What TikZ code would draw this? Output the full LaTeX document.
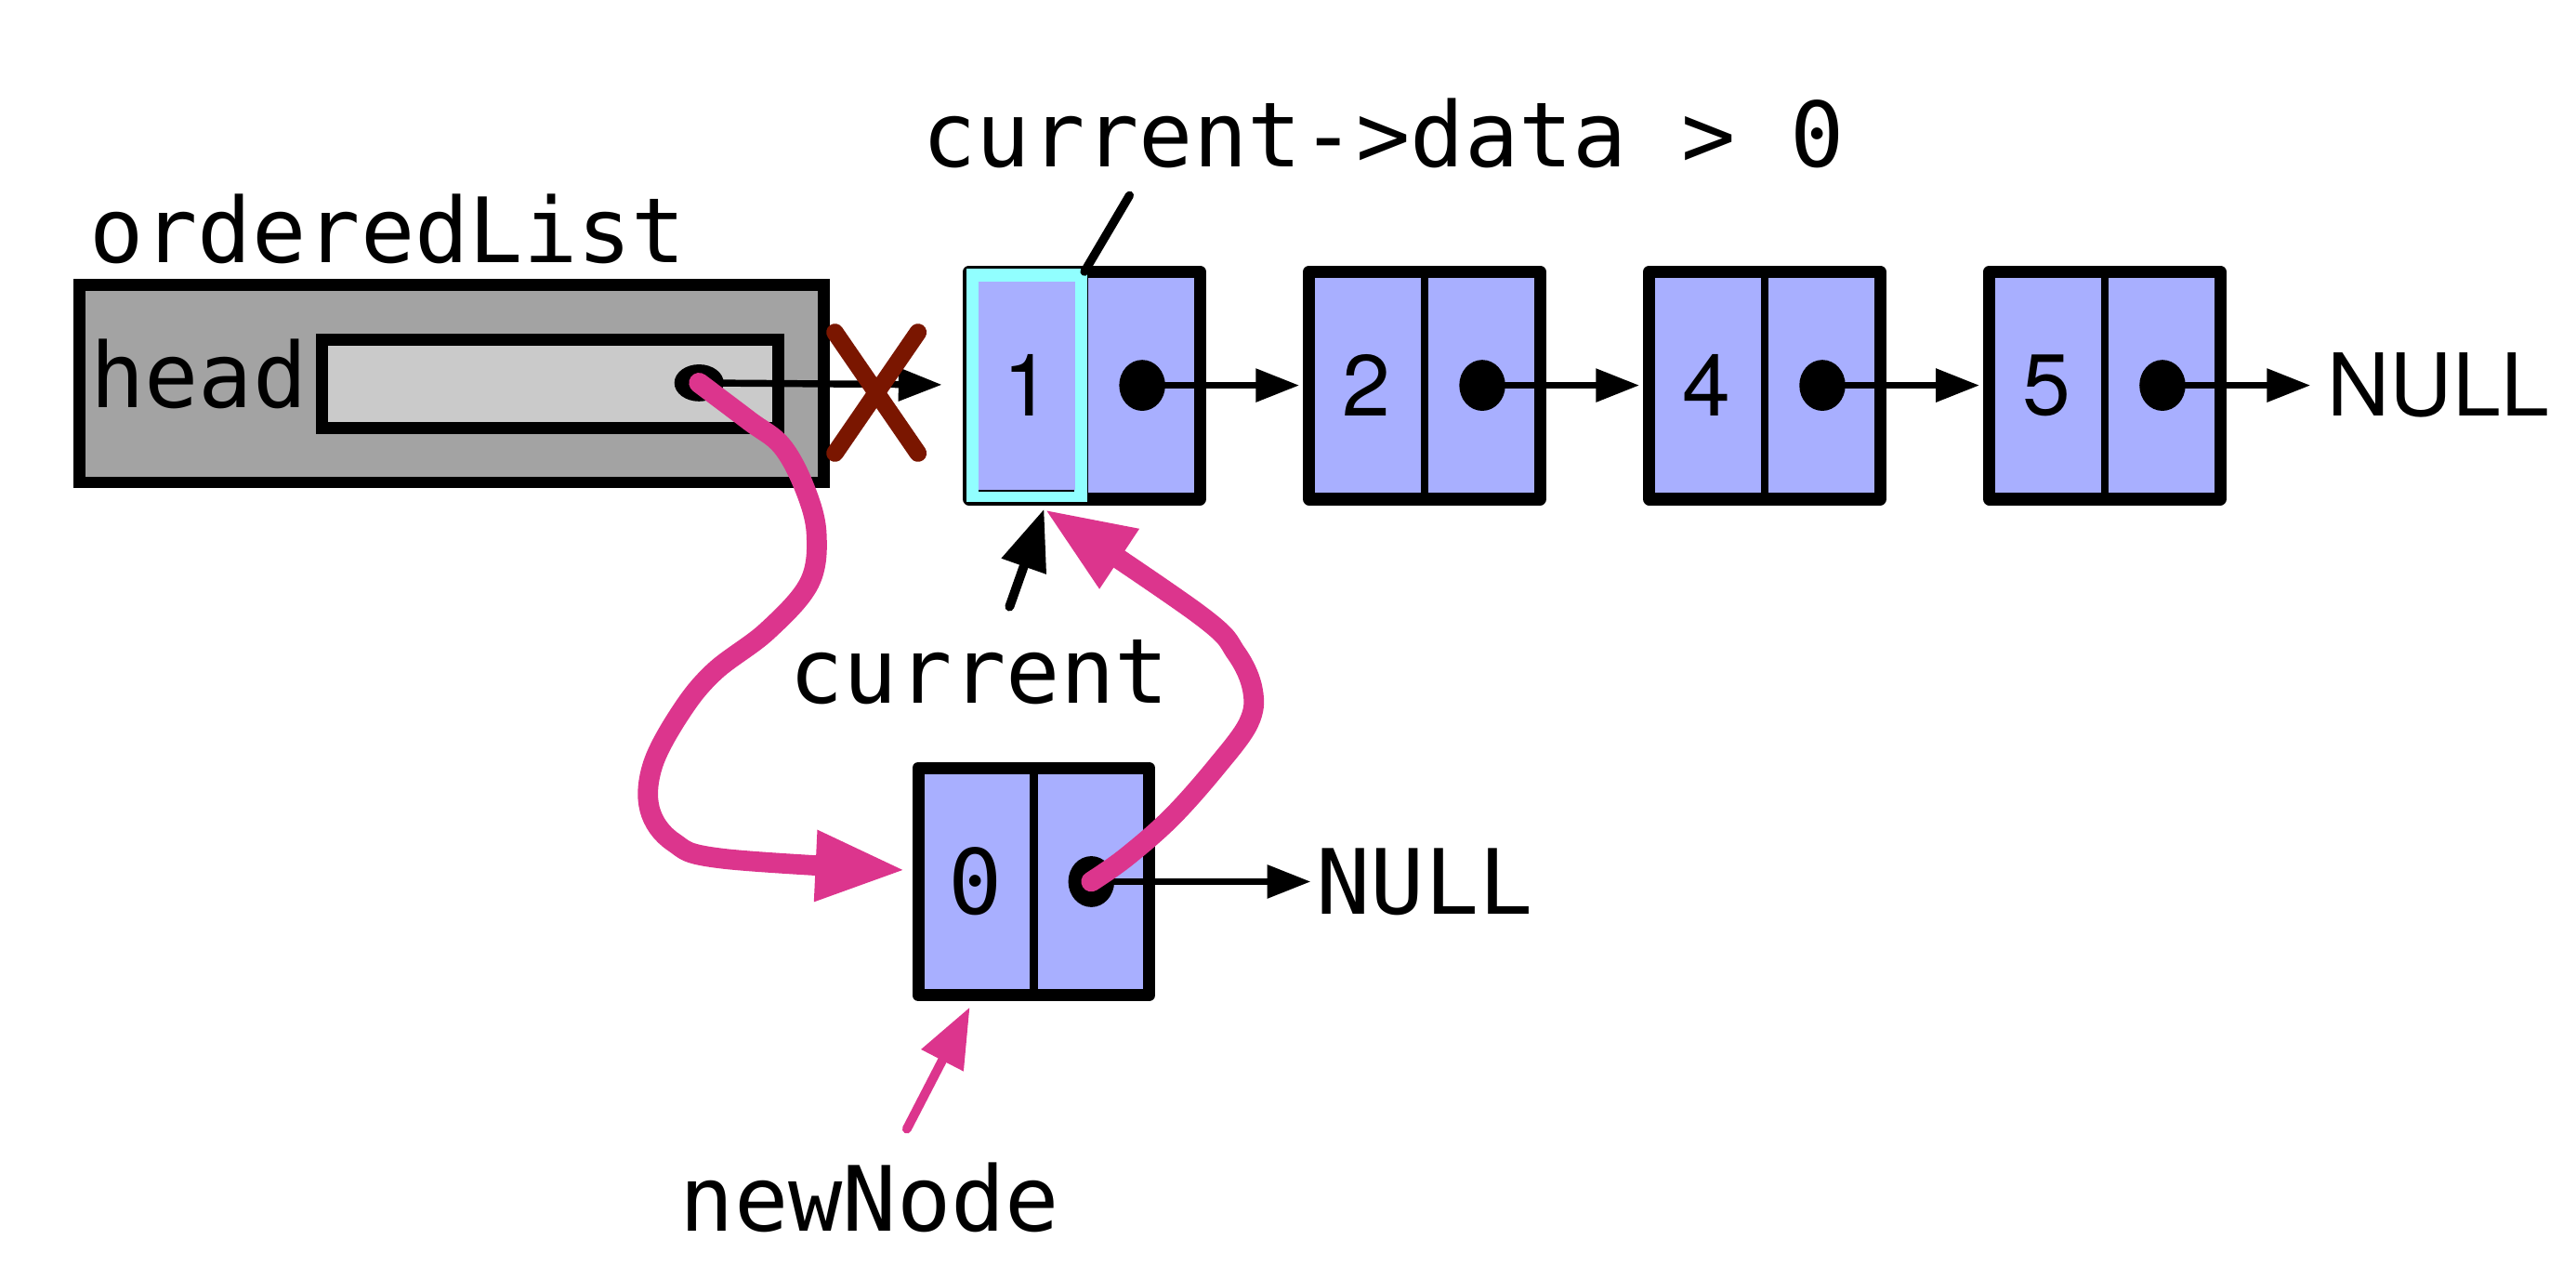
\documentclass[tikz,border=0pt]{standalone}
\usepackage{fontspec}
\setmainfont{TeX Gyre Heros}
\setmonofont{DejaVu Sans Mono}
\newfontfamily\cellfont{TeX Gyre Heros}
\usetikzlibrary{arrows.meta,positioning,shapes.geometric,shapes.misc}
\definecolor{cellblue}{RGB}{168,175,255}
\definecolor{hilitecyan}{RGB}{145,255,255}
\definecolor{objgrey}{RGB}{163,163,163}
\definecolor{fieldgrey}{RGB}{202,202,202}
\definecolor{linkpink}{RGB}{220,53,141}
\definecolor{crossred}{RGB}{122,22,0}
\newcommand{\monobig}{\fontsize{31.2}{37}\selectfont\ttfamily}
\newcommand{\sansbig}{\cellfont\fontsize{30}{36}\selectfont}
\tikzset{
  objbox/.style={
    draw,
    fill=objgrey,
    line width=4.1pt,
    minimum width=9.06cm,
    minimum height=2.4cm,
    inner sep=0pt,
    outer sep=0pt
  },
  fieldbox/.style={
    draw,
    fill=fieldgrey,
    line width=4.2pt,
    minimum width=5.55cm,
    minimum height=1.07cm,
    inner sep=0pt,
    outer sep=0pt
  },
  cell/.style={
    draw,
    fill=cellblue,
    line width=2.8pt,
    minimum width=1.405cm,
    minimum height=2.77cm,
    inner sep=0pt,
    outer sep=0pt,
    font=\sansbig
  },
  frame/.style={
    line width=4.2pt,
    line join=round
  },
  ptrdot/.style={
    ellipse,
    fill=black,
    inner sep=0pt,
    minimum width=.56cm,
    minimum height=.62cm
  },
  lbl/.style={
    inner sep=0pt,
    font=\monobig
  },
  ptr/.style={
    -{Triangle[length=5.3mm,width=3.9mm]},
    line width=2.4pt,
    shorten >=.12cm
  },
  pinklink/.style={
    -{Triangle[length=11mm,width=8mm]},
    line width=7pt,
    linkpink,
    line cap=round,
    line join=round
  },
  xmark/.style={
    cross out,
    draw=crossred,
    line width=6pt,
    line cap=round,
    minimum width=.8cm,
    minimum height=1.26cm,
    inner sep=0pt
  }
}

\begin{document}
\begin{tikzpicture}
\useasboundingbox (0,0) rectangle (31.36,-15.4);
% orderedList object
\node[objbox] (ol) at (5.5,-4.67) {};
\node[fieldbox] (hb) at (6.7,-4.67) {};
\node[lbl,anchor=base] (oltxt) at (4.72,-3.2) {orderedList};
\node[lbl,anchor=base] (headtxt) at (2.42,-4.955) {head};
\node[ptrdot,minimum width=.6cm,minimum height=.45cm] (hdot) at (8.51,-4.66) {};

% list nodes
\node[cell] (v1) at (12.5,-4.69) {1};
\node[cell,right=0pt of v1] (p1) {};
\node[cell,right=1.33cm of p1] (v2) {2};
\node[cell,right=0pt of v2] (p2) {};
\node[cell,right=1.33cm of p2] (v4) {4};
\node[cell,right=0pt of v4] (p4) {};
\node[cell,right=1.33cm of p4] (v5) {5};
\node[cell,right=0pt of v5] (p5) {};
\node[cell,font=\monobig] (v0) at (11.88,-10.73) {0};
\node[cell,right=0pt of v0] (p0) {};
\foreach \k in {0,1,2,4,5}
  \draw[frame] (v\k.south west) rectangle (p\k.north east);

% current node highlight
\draw[hilitecyan,line width=4.4pt] ([shift={(.04,.04)}]v1.south west) rectangle ([shift={(-.04,-.04)}]v1.north east);
\draw[line width=.8pt] ([shift={(.12,.1)}]v1.south west) -- ([shift={(-.12,.1)}]v1.south east);

\foreach \k in {0,1,2,4,5}
  \node[ptrdot] (d\k) at (p\k) {};

\node[anchor=west,inner sep=0pt,font=\sansbig,right=1.3cm of p5] (null5) {NULL};
\node[lbl,anchor=west,right=2.03cm of p0] (null0) {NULL};

% labels
\node[lbl,anchor=base] (cond) at (16.84,-2.036) {current->data > 0};
\node[lbl,anchor=base] (cur) at (11.92,-8.56) {current};
\node[lbl,anchor=base] (nn) at (10.59,-14.98) {newNode};
\coordinate (tgt) at ([xshift=.21cm,yshift=-.12cm]v1.south);

% next pointers
\draw[ptr,shorten >=.33cm] (hdot.center) -- (v1);
\draw[ptr] (d1.center) -- (v2);
\draw[ptr] (d2.center) -- (v4);
\draw[ptr] (d4.center) -- (v5);
\draw[ptr,shorten >=.2cm] (d5.center) -- (null5);
\draw[ptr,shorten >=.06cm] (d0.center) -- (null0);

\node[xmark] (xm) at (10.67,-4.78) {};

\draw[line width=3pt,line cap=round] ([xshift=-3.09cm,yshift=-.32cm]cond.south) -- (v1.north east);
\draw[line width=3.2pt,line cap=round,-{Triangle[length=7.4mm,width=5.5mm]}] ([xshift=.37cm,yshift=.4cm]cur.north) -- (tgt);
\draw[linkpink,line width=3.2pt,line cap=round,-{Triangle[length=7.3mm,width=5.5mm]},shorten >=.16cm] ([xshift=.45cm,yshift=.4cm]nn.north) -- (v0.south);

% relinking
\draw[pinklink] plot[smooth,tension=.6] coordinates {(hdot.center) (9.12,-5.12) (9.52,-5.43) (9.8,-5.95) (9.94,-6.5) (9.85,-7.1) (9.34,-7.68) (8.7,-8.17) (8.3,-8.65) (7.95,-9.3) (7.91,-9.85) (8.2,-10.25) (8.8,-10.45) ([xshift=-.15cm,yshift=.14cm]v0.west)};
\draw[pinklink] plot[smooth,tension=.6] coordinates {(d0.center) (13.7,-10.44) (14.26,-9.95) (14.81,-9.33) (15.2,-8.8) (15.25,-8.4) (15.05,-7.95) (14.6,-7.48) (tgt)};
\end{tikzpicture}
\end{document}
